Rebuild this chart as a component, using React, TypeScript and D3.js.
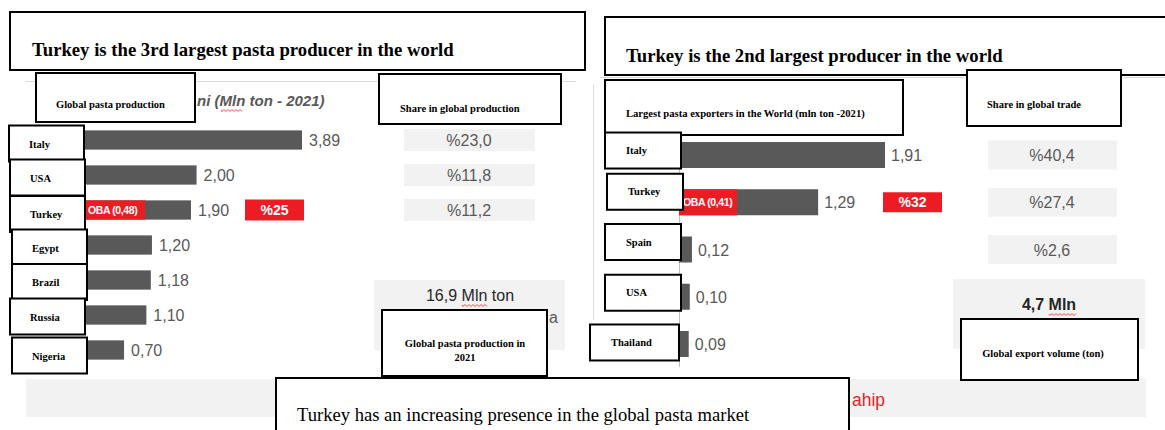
import React from 'react';
import * as d3 from 'd3';

// left panel: global pasta production (mln ton, 2021)
const prodCountries = ['Italy', 'USA', 'Turkey', 'Egypt', 'Brazil', 'Russia', 'Nigeria'];
const prodValues = [3.89, 2.0, 1.9, 1.2, 1.18, 1.1, 0.7];
const prodShares = ['%23,0', '%11,8', '%11,2'];
const prodObaLabel = 'OBA (0,48)';
const prodTurkeyShare = '%25';
const prodTotal = '16,9 Mln ton';

// right panel: largest exporters (mln ton, 2021)
const exportCountries = ['Italy', 'Turkey', 'Spain', 'USA', 'Thailand'];
const exportValues = [1.91, 1.29, 0.12, 0.1, 0.09];
const exportShares = ['%40,4', '%27,4', '%2,6'];
const exportObaLabel = 'OBA (0,41)';
const exportTurkeyShare = '%32';
const exportTotal = '4,7 Mln';

const SERIF = '"Liberation Serif", "Times New Roman", serif';
const SANS = '"Liberation Sans", Arial, sans-serif';
const BAR = '#595959';
const RED = '#ed1c24';
const PANEL = '#f2f2f2';
const TXT = '#595959';

const fmt = (v: number) => v.toFixed(2).replace('.', ',');

// little overlay boxes are slightly misaligned in the source, keep that
const leftBoxX = [9, 10, 10, 12, 12, 10, 12];
const leftBoxDy = [3.5, 2.5, 4, 2.5, 2, 1.5, 5.5];
const rightBoxX = [605, 607, 605, 605, 590];
const rightBoxW = [76, 76, 76, 76, 89];
const rightBoxDy = [-4.5, -10.5, -7.5, -4, -1.5];

const Box = ({ x, y, w, h }: { x: number; y: number; w: number; h: number }) => (
  <rect x={x} y={y} width={w} height={h} fill="#fff" stroke="#000" strokeWidth={2} />
);

const squiggle = (x0: number, x1: number, y: number) => {
  let d = `M${x0},${y}`;
  for (let x = x0; x < x1; x += 2) d += ` L${x + 1},${y + (((x - x0) / 2) % 2 === 0 ? 1.5 : -0.5)}`;
  return d;
};

export default function App() {
  const xL = d3.scaleLinear().domain([0, d3.max(prodValues) as number]).range([85, 302]);
  const yL = d3.scaleBand().domain(prodCountries).range([122.5, 367.5]).paddingInner(0.45).paddingOuter(0.225);
  const xR = d3.scaleLinear().domain([0, d3.max(exportValues) as number]).range([679, 885]);
  const yR = d3.scaleBand().domain(exportCountries).range([131.4, 367.6]).paddingInner(0.45).paddingOuter(0.225);

  const cL = (c: string) => (yL(c) as number) + yL.bandwidth() / 2;
  const cR = (c: string) => (yR(c) as number) + yR.bandwidth() / 2;

  return (
    <div style={{ position: 'absolute', left: 0, top: 0 }}>
      <svg width={1165} height={430} style={{ display: 'block', background: '#fff' }}>
        {/* background bits of the underlying slides */}
        <line x1={26} x2={576} y1={81.5} y2={81.5} stroke="#d9d9d9" />
        <line x1={600} x2={1165} y1={77.5} y2={77.5} stroke="#d9d9d9" />
        <line x1={593.5} x2={593.5} y1={84} y2={320} stroke="#e0e0e0" />
        <rect x={26} y={379} width={1120} height={38} fill={PANEL} />
        <text x={852} y={406} fontFamily={SANS} fontSize={17.5} fill={RED}>
          ahip
        </text>

        {/* left panel */}
        <text x={197} y={106} fontFamily={SANS} fontSize={15} fontStyle="italic" fontWeight={600} fill={TXT}>
          ni (Mln ton - 2021)
        </text>
        <path d={squiggle(221, 242, 110)} fill="none" stroke={RED} strokeWidth={0.8} />
        {prodCountries.map((c, i) => (
          <g key={c}>
            <rect x={xL(0)} y={yL(c)} width={xL(prodValues[i]) - xL(0)} height={yL.bandwidth()} fill={BAR} />
            <text x={xL(prodValues[i]) + 7} y={cL(c) + 6} fontFamily={SANS} fontSize={16} fill={TXT}>
              {fmt(prodValues[i])}
            </text>
          </g>
        ))}
        <rect x={xL(0)} y={yL('Turkey')} width={60} height={yL.bandwidth()} fill={RED} />
        <text x={xL(0) + 3} y={cL('Turkey') + 4} fontFamily={SANS} fontSize={10.5} fontWeight="bold" letterSpacing={-0.4} fill="#fff">
          {prodObaLabel}
        </text>
        <rect x={245} y={cL('Turkey') - 10.5} width={59} height={21} fill={RED} />
        <text x={274.5} y={cL('Turkey') + 5} textAnchor="middle" fontFamily={SANS} fontSize={14} fontWeight="bold" fill="#fff">
          {prodTurkeyShare}
        </text>
        {prodShares.map((s, i) => (
          <g key={s}>
            <rect x={404} y={cL(prodCountries[i]) - 11} width={131} height={22} fill={PANEL} />
            <text x={469} y={cL(prodCountries[i]) + 6} textAnchor="middle" fontFamily={SANS} fontSize={16} fill={TXT}>
              {s}
            </text>
          </g>
        ))}
        <rect x={374} y={280} width={191} height={70} fill={PANEL} />
        <text x={470} y={301} textAnchor="middle" fontFamily={SANS} fontSize={16} fill="#262626">
          {prodTotal}
        </text>
        <path d={squiggle(462, 488, 305)} fill="none" stroke={RED} strokeWidth={0.8} />
        <text x={549} y={323} fontFamily={SANS} fontSize={16} fill={TXT}>
          a
        </text>

        {/* right panel */}
        <line x1={679.5} x2={679.5} y1={130} y2={367} stroke="#bfbfbf" />
        {exportCountries.map((c, i) => (
          <g key={c}>
            <rect x={xR(0)} y={yR(c)} width={xR(exportValues[i]) - xR(0)} height={yR.bandwidth()} fill={BAR} />
            <text x={xR(exportValues[i]) + 6} y={cR(c) + 6} fontFamily={SANS} fontSize={16} fill={TXT}>
              {fmt(exportValues[i])}
            </text>
          </g>
        ))}
        <rect x={xR(0)} y={yR('Turkey')} width={58} height={yR.bandwidth()} fill={RED} />
        <text x={xR(0) + 4} y={cR('Turkey') + 4} fontFamily={SANS} fontSize={10.5} fontWeight="bold" letterSpacing={-0.4} fill="#fff">
          {exportObaLabel}
        </text>
        <rect x={883} y={cR('Turkey') - 10} width={59} height={20} fill={RED} />
        <text x={912.5} y={cR('Turkey') + 5} textAnchor="middle" fontFamily={SANS} fontSize={14} fontWeight="bold" fill="#fff">
          {exportTurkeyShare}
        </text>
        {exportShares.map((s, i) => (
          <g key={s}>
            <rect x={988} y={cR(exportCountries[i]) - 14.5} width={129} height={29} fill={PANEL} />
            <text x={1052} y={cR(exportCountries[i]) + 6} textAnchor="middle" fontFamily={SANS} fontSize={16} fill={TXT}>
              {s}
            </text>
          </g>
        ))}
        <rect x={953} y={279} width={192} height={70} fill={PANEL} />
        <text x={1049} y={310} textAnchor="middle" fontFamily={SANS} fontSize={16} fontWeight="bold" fill="#262626">
          {exportTotal}
        </text>
        <path d={squiggle(1049, 1076, 314)} fill="none" stroke={RED} strokeWidth={0.8} />

        {/* overlay annotation boxes */}
        <Box x={10} y={12} w={575} h={58} />
        <text x={32} y={56} fontFamily={SERIF} fontSize={18.7} fontWeight="bold" fill="#000">
          Turkey is the 3rd largest pasta producer in the world
        </text>
        <Box x={36} y={73} w={159} h={49} />
        <text x={56} y={108} fontFamily={SERIF} fontSize={10.5} fontWeight="bold" fill="#000">
          Global pasta production
        </text>
        <Box x={379} y={74} w={182} h={50} />
        <text x={400} y={112} fontFamily={SERIF} fontSize={10.5} fontWeight="bold" fill="#000">
          Share in global production
        </text>
        {prodCountries.map((c, i) => {
          const cy = cL(c) + leftBoxDy[i];
          return (
            <g key={'lb' + c}>
              <Box x={leftBoxX[i]} y={cy - 18} w={75} h={36} />
              <text x={leftBoxX[i] + 20} y={cy + 4} fontFamily={SERIF} fontSize={10.5} fontWeight="bold" fill="#000">
                {c}
              </text>
            </g>
          );
        })}
        <Box x={382} y={310} w={165} h={66} />
        <text x={465} y={347} textAnchor="middle" fontFamily={SERIF} fontSize={10.5} fontWeight="bold" fill="#000">
          Global pasta production in
        </text>
        <text x={465} y={361} textAnchor="middle" fontFamily={SERIF} fontSize={10.5} fontWeight="bold" fill="#000">
          2021
        </text>

        <Box x={605} y={17} w={570} h={58} />
        <text x={626} y={62} fontFamily={SERIF} fontSize={18.7} fontWeight="bold" fill="#000">
          Turkey is the 2nd largest producer in the world
        </text>
        <Box x={605} y={80} w={298} h={55} />
        <text x={626} y={117} fontFamily={SERIF} fontSize={10.6} fontWeight="bold" fill="#000">
          Largest pasta exporters in the World (mln ton -2021)
        </text>
        <Box x={967} y={70} w={154} h={56} />
        <text x={987} y={108} fontFamily={SERIF} fontSize={10.5} fontWeight="bold" fill="#000">
          Share in global trade
        </text>
        {exportCountries.map((c, i) => {
          const cy = cR(c) + rightBoxDy[i];
          return (
            <g key={'rb' + c}>
              <Box x={rightBoxX[i]} y={cy - 18} w={rightBoxW[i]} h={36} />
              <text x={rightBoxX[i] + 21} y={cy + 3.5} fontFamily={SERIF} fontSize={10.5} fontWeight="bold" fill="#000">
                {c}
              </text>
            </g>
          );
        })}
        <Box x={961} y={319} w={177} h={61} />
        <text x={1043} y={357} textAnchor="middle" fontFamily={SERIF} fontSize={10.5} fontWeight="bold" fill="#000">
          Global export volume (ton)
        </text>

        <Box x={276} y={378} w={573} h={60} />
        <text x={297} y={421} fontFamily={SERIF} fontSize={18.6} fill="#000">
          Turkey has an increasing presence in the global pasta market
        </text>
      </svg>
    </div>
  );
}
